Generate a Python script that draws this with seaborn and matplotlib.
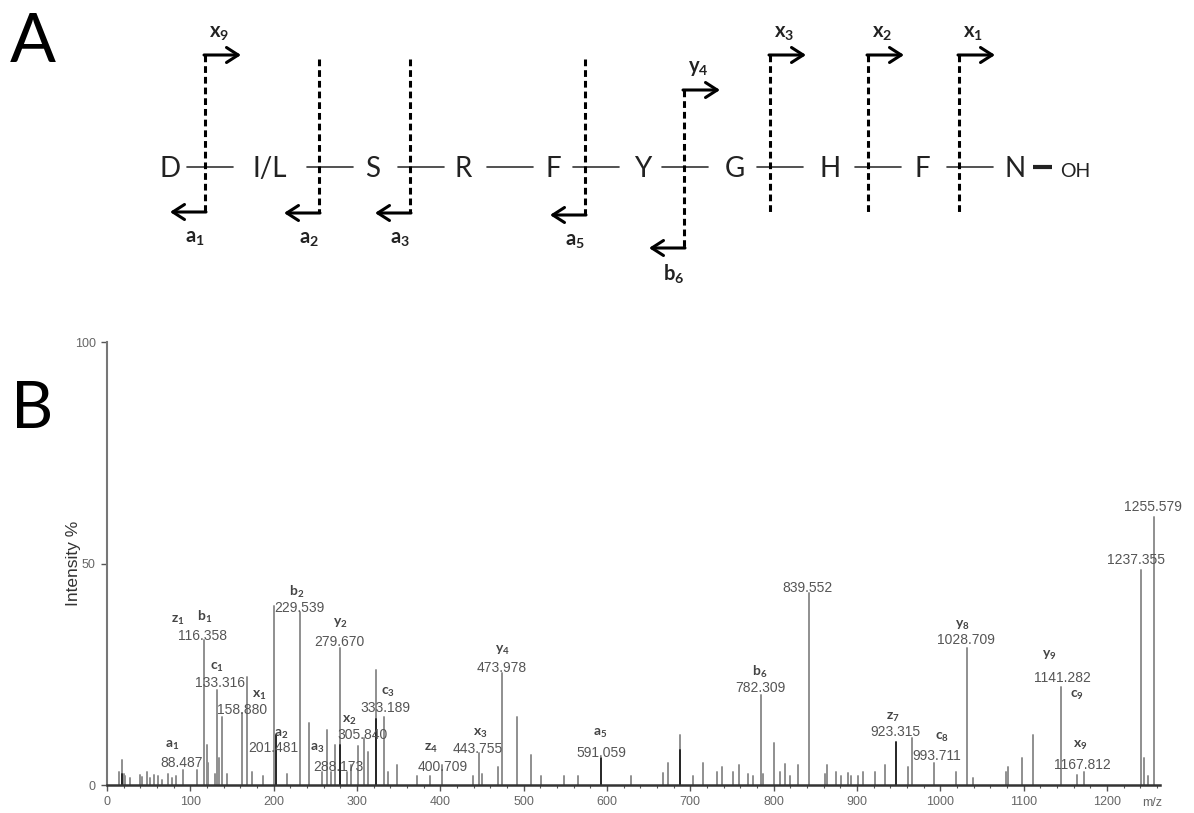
import numpy as np
import pandas as pd
import matplotlib
matplotlib.use("Agg")
import matplotlib.pyplot as plt
import seaborn as sns

# --- Panel A: secuencia del péptido y cortes ---
residues = ["D", "I/L", "S", "R", "F", "Y", "G", "H", "F", "N"]
cut_bond = [0, 1, 2, 4, 5, 6, 7, 8]
cut_top = ["x9", None, None, None, "y4", "x3", "x2", "x1"]
cut_bottom = ["a1", "a2", "a3", "a5", "b6", None, None, None]

# --- Panel B: espectro (m/z, intensidad %) ---
peak_mz = [15.0, 17.6, 20.0, 22.0, 28.0, 39.6, 42.0, 48.4, 52.0, 56.4, 61.6, 66.0,
           73.0, 78.0, 83.0, 91.6, 108.4, 116.4, 119.6, 121.6, 129.6, 131.6, 134.0,
           137.6, 143.6, 161.6, 168.4, 173.6, 187.6, 200.4, 215.6, 231.6, 242.8,
           257.6, 263.6, 268.4, 273.6, 279.6, 287.6, 292.8, 301.6, 308.4, 313.6,
           322.8, 332.4, 337.6, 347.6, 371.6, 387.6, 401.6, 439.6, 446.4, 449.6,
           469.6, 473.6, 491.6, 508.8, 520.4, 548.8, 564.8, 628.8, 667.6, 672.8,
           687.6, 702.8, 715.6, 731.6, 737.6, 751.6, 758.8, 769.6, 775.6, 784.4,
           787.6, 800.4, 807.6, 813.6, 819.6, 829.6, 842.8, 861.6, 864.4, 874.8,
           880.4, 888.8, 892.4, 900.8, 906.8, 921.6, 933.6, 960.8, 966.4, 992.8,
           1018.8, 1032.4, 1039.6, 1079.0, 1080.8, 1097.6, 1111.6, 1144.8, 1163.6,
           1172.4, 1240.4, 1244.4, 1249.6, 1256.4]
peak_int = [3.0, 5.6, 2.5, 2.0, 1.5, 2.3, 1.8, 3.0, 1.5, 2.3, 2.0, 1.2,
            2.5, 1.5, 2.0, 3.4, 3.4, 32.7, 9.0, 5.0, 2.5, 21.4, 6.0,
            15.4, 2.5, 16.2, 24.4, 3.0, 2.0, 40.3, 2.5, 39.1, 14.0,
            3.0, 12.4, 3.0, 9.0, 30.9, 3.0, 4.5, 8.7, 10.6, 7.5,
            26.0, 15.4, 3.0, 4.5, 2.0, 2.0, 4.5, 2.0, 7.2, 2.5,
            4.0, 25.3, 15.4, 6.8, 2.0, 2.0, 2.0, 2.0, 2.7, 5.0,
            11.3, 2.0, 5.0, 3.0, 4.0, 3.0, 4.5, 2.5, 2.0, 20.4,
            2.5, 9.5, 3.0, 4.8, 2.0, 4.5, 43.4, 2.5, 4.5, 3.0,
            2.0, 2.7, 2.0, 2.0, 3.0, 3.0, 4.5, 4.0, 10.6, 5.0,
            3.0, 31.0, 1.5, 3.0, 4.0, 6.0, 11.3, 22.2, 2.3,
            3.0, 48.6, 6.0, 2.0, 60.6]
# picos que se ven más oscuros en la imagen
dark_mz = [17.6, 202.8, 279.6, 322.8, 592.8, 687.6, 946.4]
dark_int = [2.5, 11.3, 9.0, 15.0, 6.0, 8.0, 9.7]

value_text = ["88.487", "116.358", "133.316", "158.880", "201.481", "229.539",
              "279.670", "288.173", "305.840", "333.189", "400.709", "443.755",
              "473.978", "591.059", "782.309", "839.552", "923.315", "993.711",
              "1028.709", "1141.282", "1167.812", "1237.355", "1255.579"]
ion_text = ["a1", "z1", "b1", "c1", "x1", "a2", "b2", "a3", "y2", "x2", "c3", "z4",
            "x3", "y4", "a5", "b6", "z7", "c8", "y8", "y9", "c9", "x9"]

# posiciones de las etiquetas (coordenadas de datos)
value_pos = [(90, 5.0), (115, 33.6), (135.6, 23.0), (162, 16.9), (199.2, 8.4),
             (230.4, 40.0), (278.4, 32.3), (277.2, 4.1), (307.2, 11.3), (333.6, 17.4),
             (403.2, 4.1), (445.2, 8.1), (474, 26.4), (592.8, 7.2), (783.6, 21.9),
             (841, 44.5), (945.6, 12.0), (996, 6.5), (1030.8, 32.7), (1146, 24.2),
             (1171, 4.5), (1234.8, 50.8), (1255, 62.8)]
ion_pos = [(78, 9.0), (85, 37.2), (117.6, 37.9), (132, 26.6), (182.4, 20.3),
           (209, 11.6), (228, 43.6), (252, 8.4), (279.6, 36.6), (290.4, 14.7),
           (337.2, 21.0), (388.8, 8.4), (447.6, 11.7), (474, 30.5), (591.6, 11.7),
           (783.6, 25.5), (943.2, 15.3), (1002, 10.8), (1026, 36.1), (1130.4, 29.3),
           (1164, 20.3), (1167.6, 9.0)]

# --- layout del panel A (píxeles) ---
residue_x = [170, 270, 373, 463, 553, 643, 735, 830, 922, 1015]
bond_center = [210, 330, 421, 510, 596, 685, 780, 878, 970]
cut_x = [205, 319, 410, 585, 684, 770, 868, 959]
cut_top_y = [55, 59, 59, 59, 90, 55, 55, 55]
cut_bot_y = [212, 213, 213, 215, 248, 212, 212, 212]
seq_y = 167
W, H = 1194, 813

sns.set_theme(style="ticks")
plt.rcParams["font.family"] = ["Liberation Sans", "DejaVu Sans"]
plt.rcParams["mathtext.fontset"] = "custom"
plt.rcParams["mathtext.rm"] = "Lato"
plt.rcParams["mathtext.bf"] = "Lato:bold"


def ion_label(name):
    return r"$\mathbf{%s}_{\mathbf{%s}}$" % (name[0], name[1:])


fig = plt.figure(figsize=(W / 100, H / 100), dpi=100)
fig.patch.set_facecolor("white")

ax_a = fig.add_axes([0, 0, 1, 1])
ax_a.set_xlim(0, W)
ax_a.set_ylim(H, 0)
ax_a.axis("off")
ax_a.patch.set_alpha(0)

ax_a.text(10, 62, "A", fontsize=49, family="Lato", va="baseline", ha="left", color="black")
ax_a.text(11, 428, "B", fontsize=47, family="Lato", va="baseline", ha="left", color="black")

for x, r in zip(residue_x, residues):
    ax_a.text(x, seq_y + 10, r, fontsize=20, family="Lato", ha="center",
              va="baseline", color="#222222")
for c in bond_center:
    ax_a.plot([c - 23, c + 23], [seq_y, seq_y], color="#333333", lw=1.2)
ax_a.plot([1033, 1052], [seq_y, seq_y], color="#222222", lw=3, solid_capstyle="butt")
ax_a.text(1060, seq_y + 10, "OH", fontsize=14, family="Lato", ha="left",
          va="baseline", color="#222222")

arrow = dict(arrowstyle="->,head_length=0.7,head_width=0.45", lw=2.2, color="black",
             shrinkA=0, shrinkB=0)
for x, top, bot, ty, by in zip(cut_x, cut_top, cut_bottom, cut_top_y, cut_bot_y):
    ax_a.plot([x, x], [ty, by], color="black", lw=2.2, dashes=(2.2, 1.3))
    if top:
        ax_a.annotate("", xy=(x + 36, ty), xytext=(x - 1, ty), arrowprops=arrow)
        ax_a.text(x + 14, ty - 22, ion_label(top), fontsize=14.5, ha="center",
                  va="center", color="#222222")
    if bot:
        ax_a.annotate("", xy=(x - 35, by), xytext=(x + 1, by), arrowprops=arrow)
        ax_a.text(x - 10, by + 26, ion_label(bot), fontsize=14.5, ha="center",
                  va="center", color="#222222")

# --- Panel B ---
left, right_px, y0_px, y100_px = 107, 1160, 785, 342
ax = fig.add_axes([left / W, (H - y0_px) / H, (right_px - left) / W,
                   (y0_px - y100_px) / H])
ax.set_facecolor("none")

rows = []
for i, (m, h) in enumerate(zip(peak_mz, peak_int)):
    rows += [(i, m, 0.0, "claro"), (i, m, h, "claro")]
for j, (m, h) in enumerate(zip(dark_mz, dark_int)):
    rows += [(1000 + j, m, 0.0, "oscuro"), (1000 + j, m, h, "oscuro")]
df = pd.DataFrame(rows, columns=["pico", "mz", "intensidad", "tono"])

sns.lineplot(data=df, x="mz", y="intensidad", units="pico", estimator=None,
             hue="tono", hue_order=["claro", "oscuro"],
             palette={"claro": "#8f8f8f", "oscuro": "#262626"},
             lw=1.4, sort=False, legend=False, ax=ax)

ax.set_xlim(0, (right_px - left) / 0.8333)
ax.set_ylim(0, 100)
ax.set_xticks(np.arange(0, 1201, 100))
ax.set_xticks(np.arange(0, 1261, 20), minor=True)
ax.set_yticks([0, 50, 100])
ax.tick_params(axis="both", which="major", direction="out", length=4, width=1,
               color="#555555", labelsize=9, labelcolor="#666666", pad=4)
ax.tick_params(axis="x", which="minor", direction="out", length=2, width=0.8,
               color="#555555")
for s in ["top", "right"]:
    ax.spines[s].set_visible(False)
ax.spines["left"].set_color("#777777")
ax.spines["left"].set_linewidth(1.5)
ax.spines["bottom"].set_color("#333333")
ax.spines["bottom"].set_linewidth(1.8)
ax.set_xlabel("")
ax.set_ylabel("Intensity %", fontsize=12.5, color="#333333")
ax.yaxis.set_label_coords(-0.025, 0.5)

ax.annotate("m/z", xy=(1254, 0), xycoords=("data", "axes fraction"),
            xytext=(0, -13), textcoords="offset points", ha="center", va="center",
            fontsize=9, color="#666666")

for t, (xm, yi) in zip(value_text, value_pos):
    ax.text(xm, yi, t, fontsize=10, ha="center", va="center", color="#555555")
for t, (xm, yi) in zip(ion_text, ion_pos):
    ax.text(xm, yi, ion_label(t), fontsize=10, ha="center", va="center",
            color="#444444")

fig.savefig("out.png", dpi=100)
